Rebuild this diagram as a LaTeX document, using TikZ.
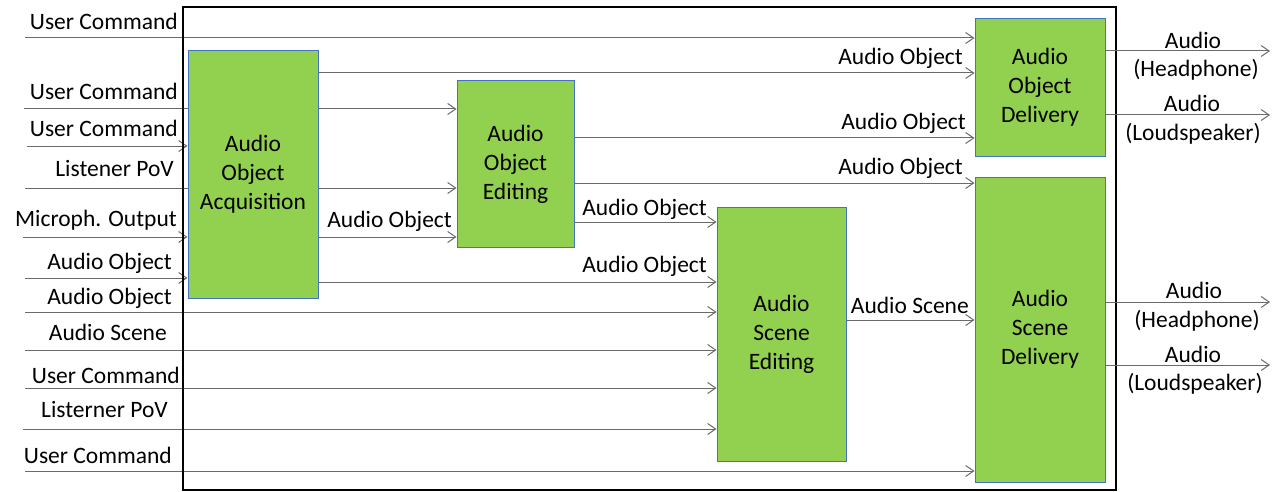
\documentclass[tikz,border=0pt]{standalone}
\usepackage{fontspec}
\setmainfont{Carlito}
\usetikzlibrary{arrows.meta,backgrounds}
\definecolor{boxgreen}{HTML}{92D050}
\definecolor{boxblue}{HTML}{4472C4}
\definecolor{linegray}{HTML}{6A6A6A}
\begin{document}
\begin{tikzpicture}[x=1pt,y=-1pt,font=\fontsize{23.5}{29}\selectfont,
  box/.style={draw=boxblue,fill=boxgreen,line width=1pt,inner sep=0pt,align=center},
  conn/.style={draw=linegray,line width=1pt},
  arr/.style={conn,-{Straight Barb[length=8pt,width=11pt]}},
  lbl/.style={inner sep=0pt,anchor=base east},
  clbl/.style={inner sep=0pt,anchor=base}]
\useasboundingbox (0,0) rectangle (1279,492);
% frame
\draw[black,line width=1.3pt] (183,7) rectangle (1116,490);
% boxes
\node[box,minimum width=130pt,minimum height=247pt] (AOA) at (253,174.5) {Audio\\Object\\Acquisition};
\node[box,minimum width=117pt,minimum height=166pt] (AOE) at (515.5,164) {Audio\\Object\\Editing};
\node[box,minimum width=129pt,minimum height=254pt] (ASE) at (781.5,334) {Audio\\Scene\\Editing};
\node[box,minimum width=130pt,minimum height=137pt] (AOD) at (1040,87.5) {Audio\\Object\\Delivery};
\node[box,minimum width=130pt,minimum height=305pt] (ASD) at (1040,329.5) {Audio\\Scene\\Delivery};
% free ends and levels
\coordinate (in1) at (25,38);
\coordinate (in2) at (24,109);
\coordinate (in3) at (27,146);
\coordinate (in4) at (25,188);
\coordinate (in5) at (23,237);
\coordinate (in6) at (25,278);
\coordinate (in7) at (25,312);
\coordinate (in8) at (25,350);
\coordinate (in9) at (25,388);
\coordinate (in10) at (23,429);
\coordinate (in11) at (25,471);
\coordinate (y73) at (0,73);
\coordinate (y138) at (0,138);
\coordinate (y183) at (0,183);
\coordinate (y222) at (0,222);
\coordinate (y282) at (0,282);
\coordinate (y320) at (0,320);
\coordinate (o1) at (1270,51);
\coordinate (o2) at (1270,115);
\coordinate (o3) at (1270,302);
\coordinate (o4) at (1270,365);
\begin{pgfonlayer}{background}
\draw[arr] (in1) -- (in1 -| AOD.west);
\draw[arr] (in2) -- (in2 -| AOE.west);
\draw[arr] (in3) -- (in3 -| AOA.west);
\draw[arr] (in4) -- (in4 -| AOE.west);
\draw[arr] (in5) -- (in5 -| AOA.west);
\draw[arr] (in6) -- (in6 -| AOA.west);
\draw[arr] (in7) -- (in7 -| ASE.west);
\draw[arr] (in8) -- (in8 -| ASE.west);
\draw[arr] (in9) -- (in9 -| ASE.west);
\draw[arr] (in10) -- (in10 -| ASE.west);
\draw[arr] (in11) -- (in11 -| ASD.west);
\end{pgfonlayer}
% inner connectors
\draw[arr] (AOA.east |- y73) -- (AOD.west |- y73);
\draw[arr] (AOA.east |- in5) -- (AOE.west |- in5);
\draw[arr] (AOA.east |- y282) -- (ASE.west |- y282);
\draw[arr] (AOE.east |- y138) -- (AOD.west |- y138);
\draw[arr] (AOE.east |- y183) -- (ASD.west |- y183);
\draw[arr] (AOE.east |- y222) -- (ASE.west |- y222);
\draw[arr] (ASE.east |- y320) -- (ASD.west |- y320);
% outputs
\draw[arr] (AOD.east |- o1) -- (o1);
\draw[arr] (AOD.east |- o2) -- (o2);
\draw[arr] (ASD.east |- o3) -- (o3);
\draw[arr] (ASD.east |- o4) -- (o4);
% input labels
\node[lbl] (l1) at (178,30) {User Command};
\node[lbl] (l2) at (178,100) {User Command};
\node[lbl] (l3) at (178,136) {User Command};
\node[lbl] (l4) at (174,176) {Listener PoV};
\node[lbl] (l5) at (177,226) {Microph. Output};
\node[lbl] (l6) at (172,269) {Audio Object};
\node[lbl] (l7) at (172,304) {Audio Object};
\node[lbl] (l8) at (167,340) {Audio Scene};
\node[lbl] (l9) at (180,383) {User Command};
\node[lbl] (l10) at (168,417) {Listerner PoV};
\node[lbl] (l11) at (172,463) {User Command};
% inner labels
\node[lbl] (m1) at (963,65) {Audio Object};
\node[lbl] (m2) at (452,227) {Audio Object};
\node[lbl] (m3) at (707,272) {Audio Object};
\node[lbl] (m4) at (966,129) {Audio Object};
\node[lbl] (m5) at (963,174) {Audio Object};
\node[lbl] (m6) at (707,215) {Audio Object};
\node[lbl] (m7) at (969,313) {Audio Scene};
% output labels
\node[clbl] (r1a) at (1193,49) {Audio};
\node[clbl] (r1b) at (1196,77) {(Headphone)};
\node[clbl] (r2a) at (1192,112) {Audio};
\node[clbl] (r2b) at (1193,140) {(Loudspeaker)};
\node[clbl] (r3a) at (1194,298) {Audio};
\node[clbl] (r3b) at (1197,327) {(Headphone)};
\node[clbl] (r4a) at (1193,362) {Audio};
\node[clbl] (r4b) at (1195,390) {(Loudspeaker)};
\end{tikzpicture}
\end{document}
